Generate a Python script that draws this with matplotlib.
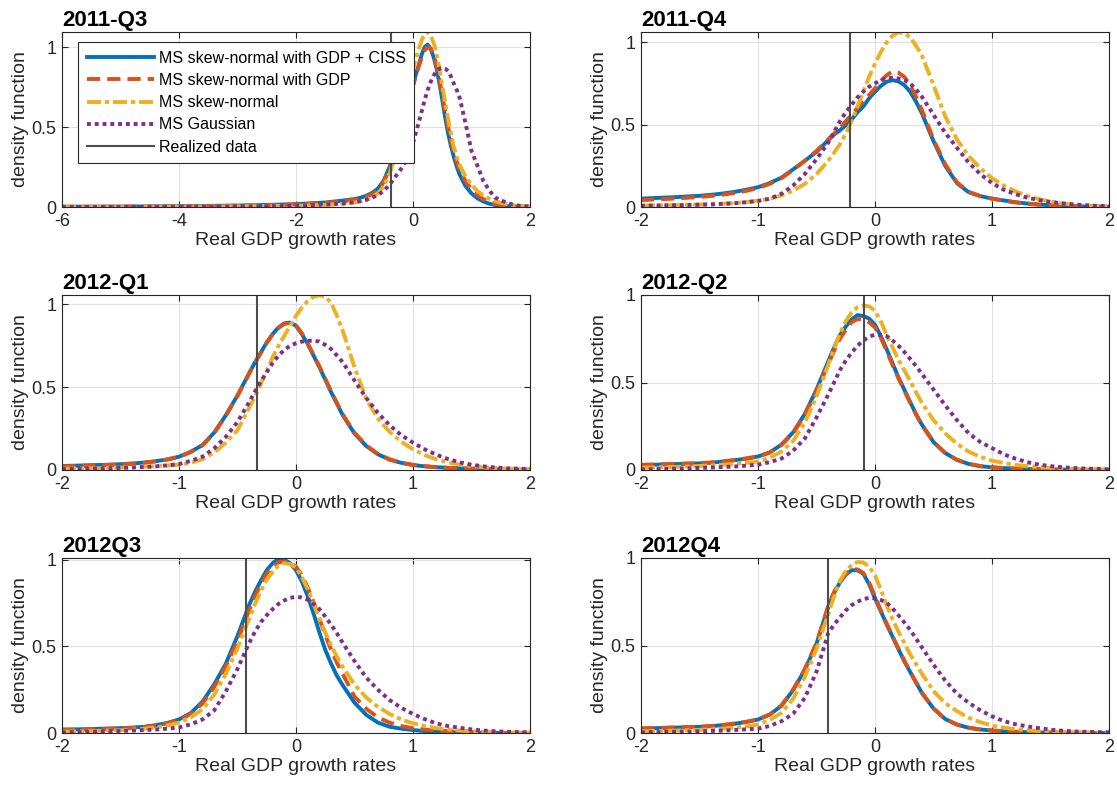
import matplotlib
matplotlib.use('Agg')
import matplotlib.pyplot as plt

plt.rcParams['font.family'] = ['Liberation Sans', 'DejaVu Sans']
plt.rcParams['axes.unicode_minus'] = False

# ---------------- data ----------------
titles = ['2011-Q3', '2011-Q4', '2012-Q1', '2012-Q2', '2012Q3', '2012Q4']
series_names = ['MS skew-normal with GDP + CISS', 'MS skew-normal with GDP',
                'MS skew-normal', 'MS Gaussian', 'Realized data']
realized = [-0.38, -0.21, -0.33, -0.09, -0.43, -0.40]
ylim_top = [1.094, 1.062, 1.056, 1.0, 1.01, 1.0]
xlims = [(-6, 2), (-2, 2), (-2, 2), (-2, 2), (-2, 2), (-2, 2)]
xticks_wide = [-6, -4, -2, 0, 2]
xticks_narrow = [-2, -1, 0, 1, 2]
yticks = [0, 0.5, 1]

# sample positions (coarse grid + extra readings near the peaks)
x_2011q3 = [-6, -5, -4, -3, -2.5, -2, -1.5, -1.2,
            -1.0, -0.9, -0.8, -0.7, -0.6, -0.5, -0.4, -0.3, -0.2, -0.1,
            0.0, 0.1, 0.2, 0.3, 0.4, 0.5, 0.6, 0.7, 0.8, 0.9,
            1.0, 1.1, 1.2, 1.3, 1.4, 1.5, 1.6, 1.7, 1.8, 1.9, 2.0]
x_2011q3_peak = [-0.35, -0.25, -0.15, -0.05, 0.05, 0.15, 0.25, 0.35, 0.45, 0.55, 0.65, 0.75]
x_grid = [-2.0, -1.9, -1.8, -1.7, -1.6, -1.5, -1.4, -1.3, -1.2, -1.1,
          -1.0, -0.9, -0.8, -0.7, -0.6, -0.5, -0.4, -0.3, -0.2, -0.1,
          0.0, 0.1, 0.2, 0.3, 0.4, 0.5, 0.6, 0.7, 0.8, 0.9,
          1.0, 1.1, 1.2, 1.3, 1.4, 1.5, 1.6, 1.7, 1.8, 1.9, 2.0]
x_peak = [-0.35, -0.25, -0.15, -0.05, 0.05, 0.15, 0.25, 0.35]

# 2011-Q3
ciss_2011q3 = [0.002, 0.003, 0.005, 0.009, 0.013, 0.018, 0.028, 0.04,
               0.05, 0.058, 0.07, 0.088, 0.115, 0.165, 0.25, 0.36, 0.48, 0.62,
               0.76, 0.89, 1.0, 0.99, 0.87, 0.67, 0.46, 0.31, 0.2, 0.13,
               0.085, 0.055, 0.035, 0.021, 0.013, 0.008, 0.005, 0.003, 0.002, 0.001, 0.001]
ciss_2011q3_peak = [0.30, 0.42, 0.55, 0.69, 0.83, 0.955, 1.015, 0.94, 0.775, 0.56, 0.38, 0.25]
gdp_2011q3 = [0.001, 0.002, 0.004, 0.008, 0.011, 0.016, 0.025, 0.035,
              0.045, 0.052, 0.063, 0.08, 0.105, 0.155, 0.24, 0.35, 0.48, 0.62,
              0.76, 0.88, 0.98, 0.99, 0.89, 0.7, 0.5, 0.34, 0.23, 0.16,
              0.11, 0.075, 0.05, 0.032, 0.02, 0.012, 0.007, 0.004, 0.002, 0.001, 0.001]
gdp_2011q3_peak = [0.29, 0.41, 0.55, 0.69, 0.82, 0.935, 1.0, 0.955, 0.80, 0.60, 0.415, 0.28]
sn_2011q3 = [0.001, 0.001, 0.002, 0.004, 0.006, 0.008, 0.013, 0.02,
             0.028, 0.035, 0.045, 0.06, 0.085, 0.13, 0.21, 0.33, 0.5, 0.68,
             0.86, 0.99, 1.08, 1.07, 0.96, 0.76, 0.55, 0.37, 0.26, 0.19,
             0.14, 0.1, 0.072, 0.052, 0.037, 0.026, 0.018, 0.012, 0.008, 0.005, 0.004]
sn_2011q3_peak = [0.265, 0.41, 0.59, 0.77, 0.93, 1.045, 1.094, 1.03, 0.87, 0.655, 0.455, 0.31]
gauss_2011q3 = [0.0, 0.0, 0.001, 0.003, 0.005, 0.008, 0.015, 0.022,
                0.03, 0.037, 0.045, 0.058, 0.075, 0.10, 0.14, 0.19, 0.24, 0.30,
                0.40, 0.53, 0.67, 0.78, 0.85, 0.87, 0.85, 0.77, 0.68, 0.52,
                0.35, 0.26, 0.165, 0.105, 0.06, 0.042, 0.028, 0.016, 0.009, 0.005, 0.003]
gauss_2011q3_peak = [0.165, 0.215, 0.27, 0.345, 0.465, 0.60, 0.73, 0.82, 0.865, 0.865, 0.815, 0.73]

# 2011-Q4
ciss_2011q4 = [0.051, 0.054, 0.057, 0.06, 0.064, 0.068, 0.074, 0.082, 0.092, 0.105,
               0.12, 0.145, 0.178, 0.228, 0.28, 0.335, 0.405, 0.465, 0.53, 0.61,
               0.70, 0.76, 0.762, 0.70, 0.57, 0.40, 0.25, 0.145, 0.09, 0.066,
               0.051, 0.04, 0.029, 0.021, 0.015, 0.011, 0.008, 0.005, 0.003, 0.002, 0.001]
ciss_2011q4_peak = [0.44, 0.495, 0.575, 0.66, 0.735, 0.77, 0.74, 0.64]
gdp_2011q4 = [0.042, 0.045, 0.048, 0.052, 0.056, 0.061, 0.067, 0.075, 0.085, 0.098,
              0.115, 0.14, 0.175, 0.225, 0.28, 0.34, 0.41, 0.48, 0.56, 0.64,
              0.72, 0.80, 0.815, 0.74, 0.59, 0.41, 0.26, 0.15, 0.092, 0.066,
              0.05, 0.038, 0.028, 0.02, 0.014, 0.01, 0.007, 0.005, 0.003, 0.002, 0.001]
gdp_2011q4_peak = [0.445, 0.52, 0.60, 0.68, 0.765, 0.823, 0.79, 0.67]
sn_2011q4 = [0.008, 0.009, 0.01, 0.011, 0.013, 0.015, 0.017, 0.02, 0.024, 0.03,
             0.038, 0.05, 0.07, 0.10, 0.14, 0.2, 0.28, 0.38, 0.52, 0.70,
             0.87, 1.0, 1.06, 1.03, 0.92, 0.74, 0.55, 0.41, 0.31, 0.235,
             0.175, 0.13, 0.095, 0.068, 0.048, 0.033, 0.022, 0.015, 0.01, 0.006, 0.004]
sn_2011q4_peak = [0.33, 0.445, 0.61, 0.79, 0.94, 1.04, 1.055, 0.98]
gauss_2011q4 = [0.008, 0.009, 0.01, 0.011, 0.012, 0.014, 0.016, 0.019, 0.023, 0.029,
                0.037, 0.05, 0.08, 0.13, 0.2, 0.29, 0.39, 0.52, 0.62, 0.70,
                0.75, 0.78, 0.78, 0.75, 0.67, 0.56, 0.45, 0.36, 0.27, 0.2,
                0.145, 0.105, 0.078, 0.057, 0.042, 0.031, 0.022, 0.015, 0.01, 0.007, 0.005]
gauss_2011q4_peak = [0.455, 0.575, 0.665, 0.73, 0.77, 0.785, 0.77, 0.715]

# 2012-Q1
ciss_2012q1 = [0.024, 0.026, 0.028, 0.03, 0.032, 0.035, 0.039, 0.045, 0.053, 0.064,
               0.08, 0.11, 0.15, 0.225, 0.33, 0.45, 0.585, 0.71, 0.82, 0.885,
               0.87, 0.76, 0.62, 0.47, 0.33, 0.22, 0.145, 0.095, 0.063, 0.043,
               0.03, 0.022, 0.017, 0.013, 0.01, 0.008, 0.006, 0.004, 0.003, 0.002, 0.001]
ciss_2012q1_peak = [0.65, 0.77, 0.86, 0.89, 0.82, 0.69, 0.545, 0.40]
gdp_2012q1 = [0.022, 0.024, 0.026, 0.028, 0.031, 0.034, 0.038, 0.044, 0.052, 0.063,
              0.079, 0.108, 0.148, 0.222, 0.327, 0.447, 0.582, 0.707, 0.818, 0.882,
              0.872, 0.765, 0.625, 0.475, 0.335, 0.225, 0.148, 0.097, 0.064, 0.044,
              0.031, 0.023, 0.017, 0.013, 0.01, 0.008, 0.006, 0.004, 0.003, 0.002, 0.001]
gdp_2012q1_peak = [0.647, 0.767, 0.857, 0.887, 0.825, 0.695, 0.55, 0.405]
sn_2012q1 = [0.008, 0.009, 0.01, 0.011, 0.013, 0.015, 0.017, 0.02, 0.023, 0.027,
             0.032, 0.043, 0.065, 0.105, 0.165, 0.24, 0.375, 0.52, 0.68, 0.81,
             0.93, 1.02, 1.055, 1.01, 0.84, 0.62, 0.43, 0.31, 0.23, 0.17,
             0.125, 0.09, 0.064, 0.046, 0.033, 0.024, 0.017, 0.012, 0.008, 0.006, 0.004]
sn_2012q1_peak = [0.445, 0.60, 0.75, 0.87, 0.98, 1.045, 1.045, 0.93]
gauss_2012q1 = [0.006, 0.007, 0.008, 0.009, 0.011, 0.013, 0.015, 0.018, 0.022, 0.028,
                0.036, 0.055, 0.08, 0.13, 0.2, 0.29, 0.41, 0.535, 0.645, 0.725,
                0.765, 0.78, 0.775, 0.73, 0.65, 0.54, 0.435, 0.345, 0.27, 0.21,
                0.165, 0.125, 0.092, 0.066, 0.046, 0.032, 0.022, 0.015, 0.01, 0.008, 0.006]
gauss_2012q1_peak = [0.475, 0.59, 0.69, 0.75, 0.775, 0.78, 0.755, 0.69]

# 2012-Q2
ciss_2012q2 = [0.029, 0.03, 0.032, 0.034, 0.036, 0.038, 0.042, 0.048, 0.056, 0.065,
               0.077, 0.1, 0.145, 0.215, 0.32, 0.46, 0.62, 0.77, 0.86, 0.88,
               0.83, 0.69, 0.53, 0.39, 0.26, 0.16, 0.097, 0.058, 0.035, 0.022,
               0.015, 0.011, 0.008, 0.006, 0.004, 0.003, 0.002, 0.0015, 0.001, 0.001, 0.0]
ciss_2012q2_peak = [0.70, 0.82, 0.885, 0.865, 0.765, 0.61, 0.46, 0.32]
gdp_2012q2 = [0.029, 0.031, 0.033, 0.035, 0.037, 0.039, 0.043, 0.049, 0.057, 0.066,
              0.078, 0.1, 0.143, 0.21, 0.315, 0.45, 0.605, 0.75, 0.845, 0.86,
              0.815, 0.68, 0.525, 0.385, 0.258, 0.16, 0.097, 0.058, 0.035, 0.022,
              0.015, 0.011, 0.008, 0.006, 0.004, 0.003, 0.002, 0.0015, 0.001, 0.001, 0.0]
gdp_2012q2_peak = [0.68, 0.80, 0.862, 0.845, 0.755, 0.60, 0.455, 0.32]
sn_2012q2 = [0.013, 0.014, 0.016, 0.018, 0.02, 0.023, 0.026, 0.03, 0.035, 0.041,
             0.048, 0.07, 0.105, 0.165, 0.27, 0.42, 0.6, 0.78, 0.9, 0.94,
             0.91, 0.77, 0.63, 0.51, 0.385, 0.285, 0.21, 0.15, 0.105, 0.075,
             0.053, 0.04, 0.029, 0.022, 0.016, 0.012, 0.009, 0.007, 0.005, 0.004, 0.003]
sn_2012q2_peak = [0.695, 0.85, 0.93, 0.935, 0.85, 0.70, 0.57, 0.445]
gauss_2012q2 = [0.004, 0.005, 0.006, 0.008, 0.01, 0.012, 0.014, 0.017, 0.02, 0.025,
                0.03, 0.045, 0.065, 0.11, 0.18, 0.3, 0.43, 0.57, 0.67, 0.74,
                0.773, 0.765, 0.71, 0.635, 0.55, 0.46, 0.37, 0.285, 0.21, 0.16,
                0.125, 0.09, 0.065, 0.045, 0.031, 0.022, 0.016, 0.011, 0.008, 0.006, 0.004]
gauss_2012q2_peak = [0.50, 0.625, 0.71, 0.762, 0.772, 0.74, 0.675, 0.595]

# 2012Q3
ciss_2012q3 = [0.02, 0.021, 0.022, 0.024, 0.026, 0.028, 0.031, 0.036, 0.045, 0.058,
               0.078, 0.115, 0.18, 0.28, 0.40, 0.56, 0.74, 0.88, 0.98, 1.0,
               0.94, 0.79, 0.58, 0.40, 0.275, 0.175, 0.105, 0.06, 0.036, 0.025,
               0.017, 0.011, 0.007, 0.005, 0.003, 0.002, 0.001, 0.001, 0.0, 0.0, 0.0]
ciss_2012q3_peak = [0.815, 0.94, 1.005, 0.98, 0.875, 0.69, 0.48, 0.33]
gdp_2012q3 = [0.018, 0.019, 0.02, 0.022, 0.024, 0.026, 0.029, 0.034, 0.043, 0.056,
              0.075, 0.11, 0.17, 0.265, 0.385, 0.53, 0.71, 0.86, 0.96, 0.99,
              0.96, 0.84, 0.66, 0.48, 0.34, 0.21, 0.14, 0.09, 0.06, 0.04,
              0.028, 0.02, 0.014, 0.01, 0.007, 0.005, 0.003, 0.002, 0.001, 0.001, 0.0]
gdp_2012q3_peak = [0.79, 0.92, 0.985, 0.98, 0.91, 0.755, 0.565, 0.405]
sn_2012q3 = [0.008, 0.009, 0.01, 0.012, 0.014, 0.016, 0.019, 0.024, 0.032, 0.043,
             0.06, 0.09, 0.136, 0.22, 0.34, 0.49, 0.66, 0.82, 0.93, 0.98,
             0.955, 0.83, 0.66, 0.505, 0.38, 0.28, 0.205, 0.15, 0.11, 0.078,
             0.056, 0.04, 0.028, 0.02, 0.014, 0.01, 0.007, 0.005, 0.004, 0.003, 0.002]
sn_2012q3_peak = [0.745, 0.885, 0.965, 0.975, 0.90, 0.745, 0.58, 0.44]
gauss_2012q3 = [0.004, 0.005, 0.006, 0.008, 0.01, 0.012, 0.014, 0.017, 0.02, 0.025,
                0.032, 0.05, 0.078, 0.13, 0.24, 0.37, 0.52, 0.64, 0.715, 0.765,
                0.786, 0.77, 0.715, 0.625, 0.52, 0.415, 0.32, 0.25, 0.19, 0.145,
                0.11, 0.08, 0.055, 0.04, 0.03, 0.021, 0.014, 0.01, 0.007, 0.005, 0.004]
gauss_2012q3_peak = [0.585, 0.68, 0.745, 0.78, 0.782, 0.745, 0.672, 0.575]

# 2012Q4
ciss_2012q4 = [0.025, 0.027, 0.029, 0.031, 0.033, 0.035, 0.039, 0.045, 0.053, 0.063,
               0.077, 0.105, 0.155, 0.245, 0.36, 0.51, 0.72, 0.86, 0.93, 0.91,
               0.77, 0.62, 0.48, 0.35, 0.23, 0.14, 0.08, 0.048, 0.03, 0.02,
               0.014, 0.01, 0.007, 0.005, 0.003, 0.002, 0.0015, 0.001, 0.001, 0.0, 0.0]
ciss_2012q4_peak = [0.80, 0.905, 0.93, 0.85, 0.695, 0.55, 0.41, 0.29]
gdp_2012q4 = [0.026, 0.028, 0.03, 0.032, 0.034, 0.036, 0.04, 0.046, 0.054, 0.064,
              0.078, 0.106, 0.157, 0.248, 0.365, 0.515, 0.725, 0.865, 0.935, 0.915,
              0.78, 0.625, 0.482, 0.35, 0.23, 0.14, 0.08, 0.048, 0.03, 0.02,
              0.014, 0.01, 0.007, 0.005, 0.003, 0.002, 0.0015, 0.001, 0.001, 0.0, 0.0]
gdp_2012q4_peak = [0.805, 0.91, 0.935, 0.86, 0.70, 0.552, 0.415, 0.29]
sn_2012q4 = [0.01, 0.011, 0.012, 0.014, 0.016, 0.018, 0.021, 0.025, 0.03, 0.038,
             0.048, 0.075, 0.115, 0.195, 0.32, 0.48, 0.68, 0.87, 0.96, 0.975,
             0.9, 0.73, 0.58, 0.45, 0.34, 0.24, 0.17, 0.125, 0.087, 0.062,
             0.042, 0.03, 0.022, 0.016, 0.011, 0.008, 0.006, 0.004, 0.003, 0.002, 0.002]
sn_2012q4_peak = [0.78, 0.925, 0.977, 0.95, 0.82, 0.65, 0.515, 0.395]
gauss_2012q4 = [0.004, 0.005, 0.006, 0.007, 0.008, 0.01, 0.012, 0.014, 0.017, 0.021,
                0.025, 0.04, 0.067, 0.11, 0.2, 0.35, 0.57, 0.66, 0.73, 0.765,
                0.77, 0.745, 0.673, 0.59, 0.49, 0.39, 0.3, 0.225, 0.173, 0.13,
                0.095, 0.068, 0.05, 0.038, 0.028, 0.019, 0.013, 0.009, 0.007, 0.005, 0.004]
gauss_2012q4_peak = [0.62, 0.70, 0.75, 0.772, 0.76, 0.712, 0.632, 0.54]

panels = [
    (x_2011q3, x_2011q3_peak,
     [(ciss_2011q3, ciss_2011q3_peak), (gdp_2011q3, gdp_2011q3_peak),
      (sn_2011q3, sn_2011q3_peak), (gauss_2011q3, gauss_2011q3_peak)]),
    (x_grid, x_peak,
     [(ciss_2011q4, ciss_2011q4_peak), (gdp_2011q4, gdp_2011q4_peak),
      (sn_2011q4, sn_2011q4_peak), (gauss_2011q4, gauss_2011q4_peak)]),
    (x_grid, x_peak,
     [(ciss_2012q1, ciss_2012q1_peak), (gdp_2012q1, gdp_2012q1_peak),
      (sn_2012q1, sn_2012q1_peak), (gauss_2012q1, gauss_2012q1_peak)]),
    (x_grid, x_peak,
     [(ciss_2012q2, ciss_2012q2_peak), (gdp_2012q2, gdp_2012q2_peak),
      (sn_2012q2, sn_2012q2_peak), (gauss_2012q2, gauss_2012q2_peak)]),
    (x_grid, x_peak,
     [(ciss_2012q3, ciss_2012q3_peak), (gdp_2012q3, gdp_2012q3_peak),
      (sn_2012q3, sn_2012q3_peak), (gauss_2012q3, gauss_2012q3_peak)]),
    (x_grid, x_peak,
     [(ciss_2012q4, ciss_2012q4_peak), (gdp_2012q4, gdp_2012q4_peak),
      (sn_2012q4, sn_2012q4_peak), (gauss_2012q4, gauss_2012q4_peak)]),
]


def combine(xa, ya, xb, yb):
    pairs = sorted(zip(list(xa) + list(xb), list(ya) + list(yb)))
    return [p[0] for p in pairs], [p[1] for p in pairs]


# ---------------- styling ----------------
C_AX = '#262626'
LW = 2.8
styles = [
    dict(color='#0072BD', lw=LW, ls='-', solid_joinstyle='round'),
    dict(color='#D95319', lw=LW, ls=(0, (3.4, 1.8)), dash_joinstyle='round'),
    dict(color='#EDB120', lw=LW, ls=(0, (3.6, 1.0, 1.1, 1.0)), dash_joinstyle='round'),
    dict(color='#7E2F8E', lw=LW, ls=(0, (1, 1))),
]
C_REAL = '#4D4D4D'

W, H = 1117, 785
fig = plt.figure(figsize=(W / 100, H / 100), dpi=100)

col_left = [62, 641]
row_top = [32, 295, 558]
ax_w, ax_h = 468, 175

for i, (xb, xp, series) in enumerate(panels):
    row, col = divmod(i, 2)
    l = col_left[col] / W
    bt = 1 - (row_top[row] + ax_h) / H
    ax = fig.add_axes([l, bt, ax_w / W, ax_h / H])

    for k, (yb, yp) in enumerate(series):
        xs, ys = combine(xb, yb, xp, yp)
        ax.plot(xs, ys, label=series_names[k], **styles[k])
    ax.axvline(realized[i], color=C_REAL, lw=1.5, label=series_names[4])

    ax.set_xlim(*xlims[i])
    ax.set_ylim(0, ylim_top[i])
    ax.set_xticks(xticks_wide if i == 0 else xticks_narrow)
    ax.set_yticks(yticks)
    ax.set_yticklabels(['0', '0.5', '1'])
    ax.grid(True, color='#e1e1e1', lw=0.8)
    ax.set_axisbelow(True)
    ax.tick_params(direction='in', top=True, right=True, length=4, width=0.8,
                   colors=C_AX, labelsize=13, pad=4)
    for s in ax.spines.values():
        s.set_color(C_AX)
        s.set_linewidth(0.8)
    ax.set_xlabel('Real GDP growth rates', fontsize=14, color=C_AX, labelpad=2)
    ax.set_ylabel('density function', fontsize=14, color=C_AX, labelpad=2)
    ax.set_title(titles[i], loc='left', fontweight='bold', fontsize=16, pad=4)

    if i == 0:
        leg = ax.legend(loc='upper left', bbox_to_anchor=(0.034, 0.943),
                        borderaxespad=0, fontsize=11.5, handlelength=4.2,
                        handletextpad=0.3, labelspacing=0.45, borderpad=0.55,
                        fancybox=False, framealpha=1, edgecolor='#262626')
        leg.get_frame().set_linewidth(0.8)
        leg.set_zorder(10)

fig.savefig('out.png', dpi=100)
